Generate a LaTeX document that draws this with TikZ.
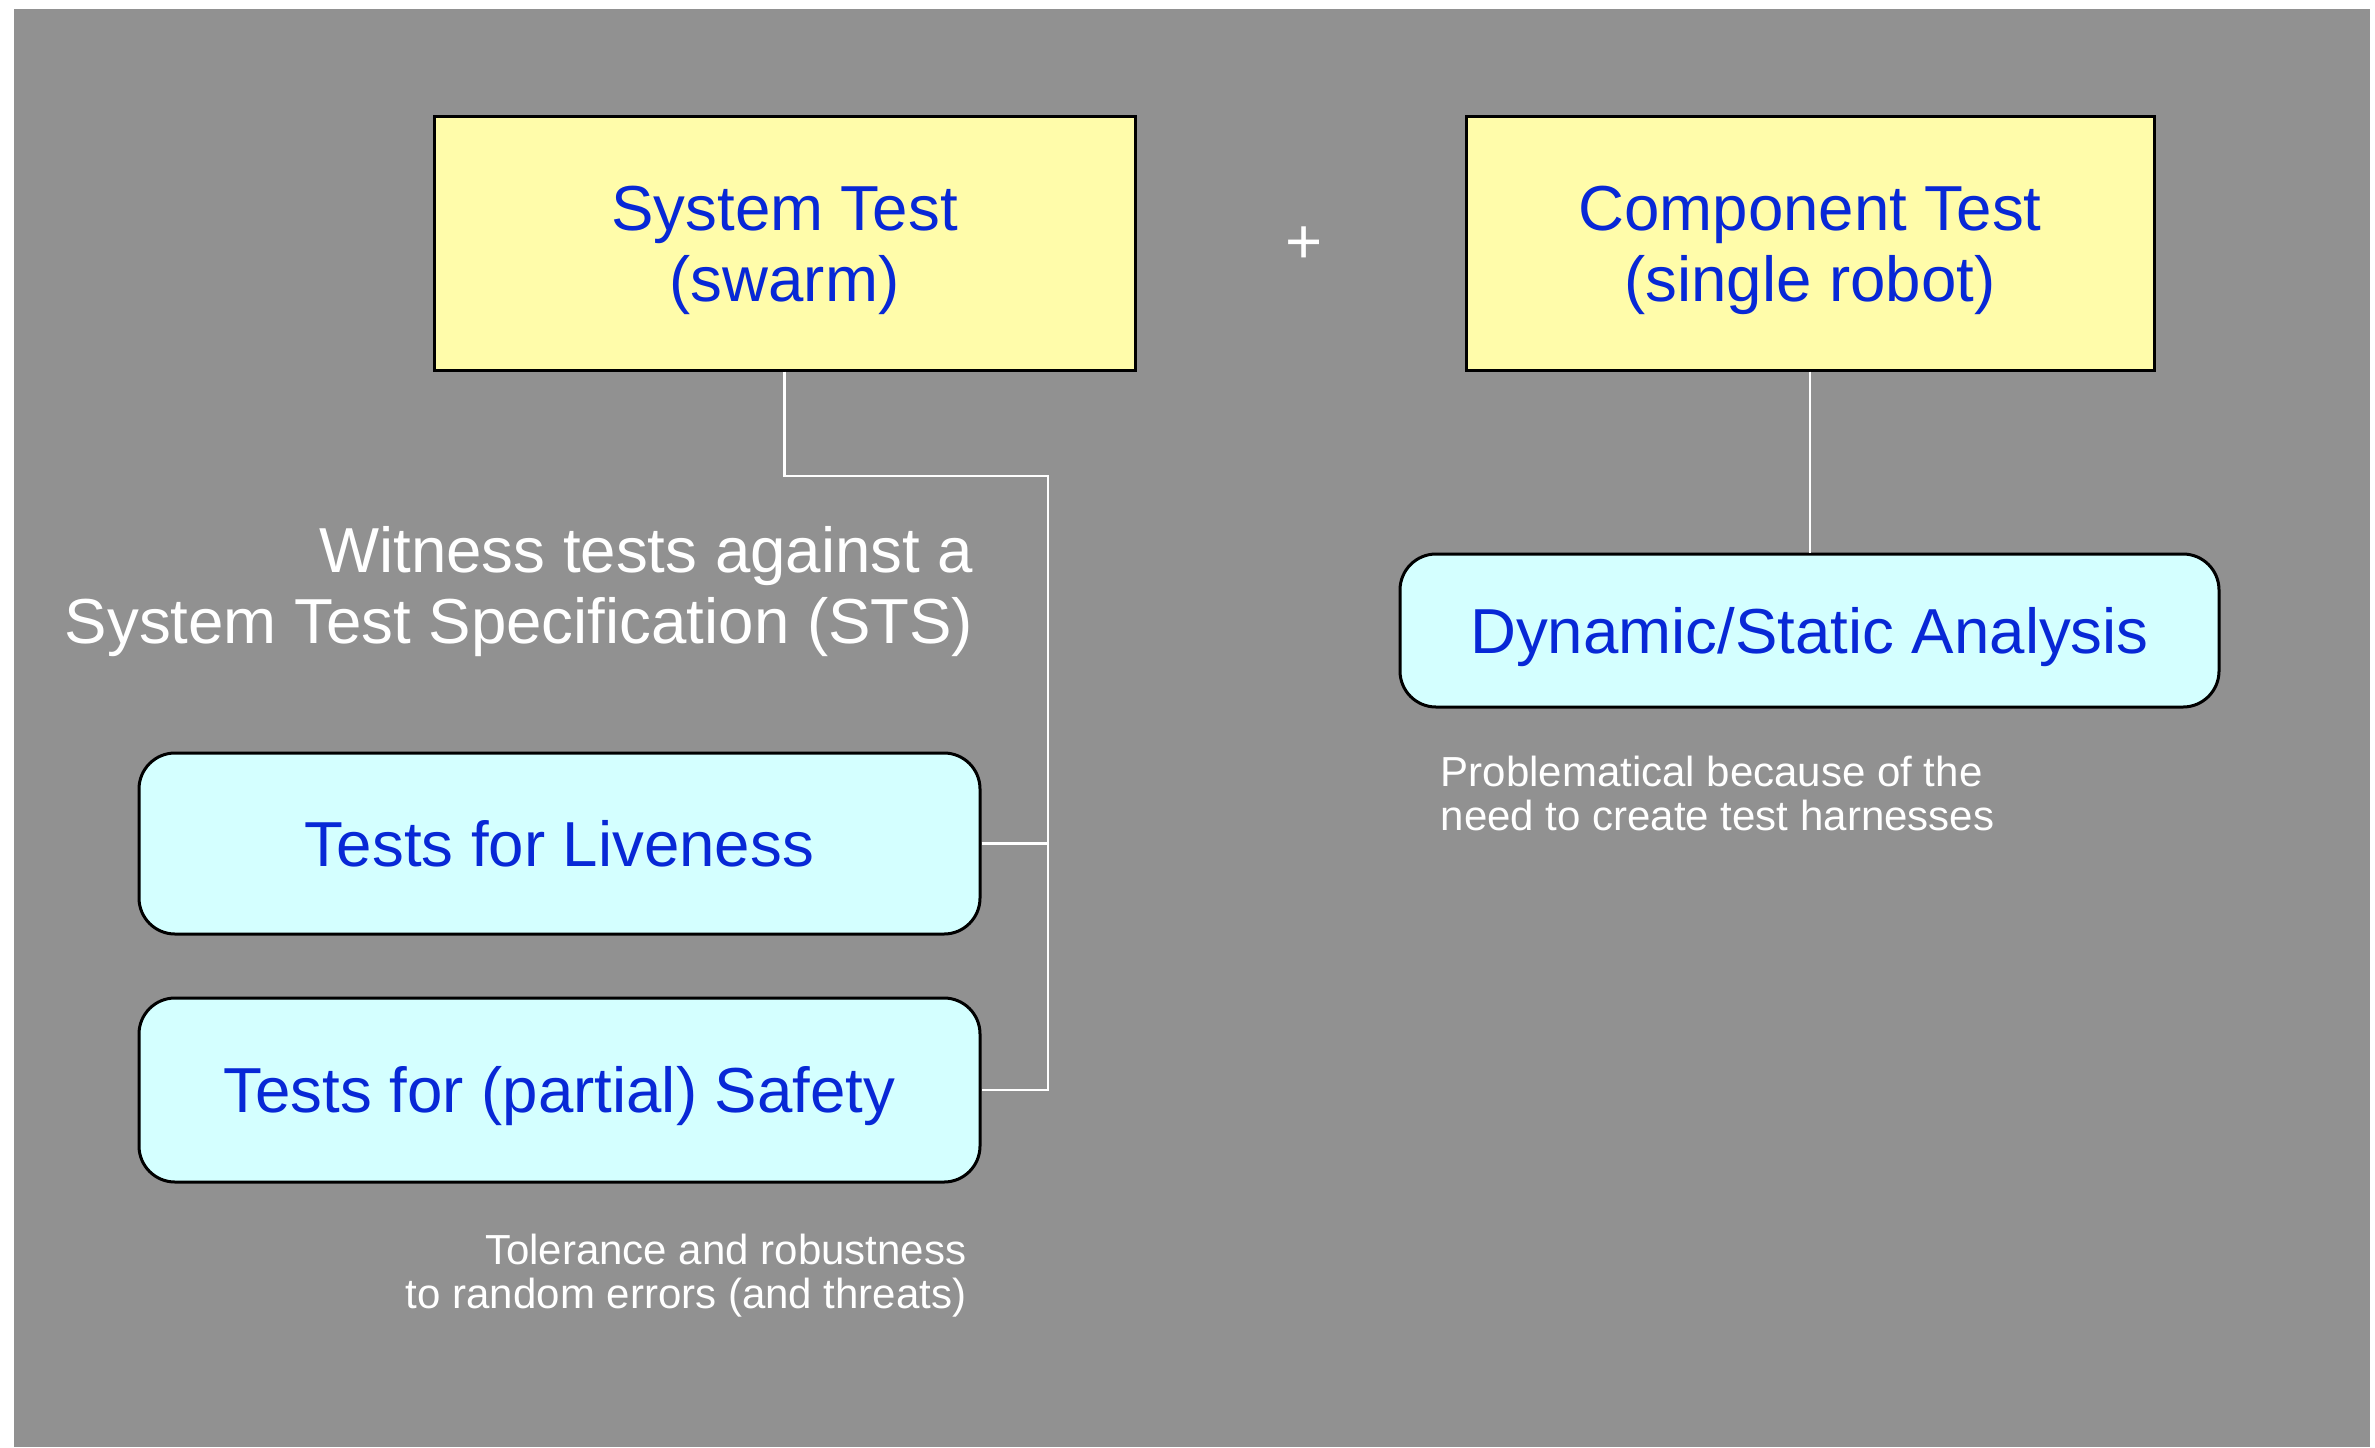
\documentclass[tikz,border=0pt]{standalone}
\usepackage{fontspec}
\setmainfont{Liberation Sans}
\usepackage{tikz}
\usetikzlibrary{calc}

\definecolor{slidegray}{RGB}{145,145,145}
\definecolor{boxyellow}{RGB}{255,252,170}
\definecolor{boxcyan}{RGB}{212,255,255}
\definecolor{textblue}{RGB}{8,40,214}

\tikzset{
  bigtext/.style={font=\fontsize{15.9pt}{17.6pt}\selectfont},
  smalltext/.style={font=\fontsize{10.5pt}{11pt}\selectfont},
  testbox/.style={draw=black, line width=0.75pt, fill=boxyellow, text=textblue,
    bigtext, align=center, inner sep=0pt, minimum height=63.5pt,
    text height=29pt, text depth=0pt},
  taskbox/.style={draw=black, line width=0.75pt, fill=boxcyan, text=textblue,
    bigtext, rounded corners=9pt, inner sep=0pt, text height=11.3pt, text depth=0pt},
  link/.style={draw=white, line width=0.7pt},
  remark/.style={text=white, inner sep=0pt}
}

\begin{document}
\begin{tikzpicture}[x=0.25pt, y=-0.25pt]
                % page and grey slide
                \useasboundingbox (0,0) rectangle (2375,1447);
                \fill[slidegray] (14,9) rectangle (2370,1447);

                % top row: the two kinds of test
                \node[testbox, minimum width=175.25pt] (sys) at (784.5,243) {System Test\\(swarm)};
                \node[testbox, minimum width=172pt] (comp) at (1810,243) {Component Test\\(single robot)};
                \node[remark, bigtext] (plus) at (1304,245) {+};

                % left column: swarm level tests
                \node[remark, bigtext, align=right, anchor=base east] (witness) at (974,643)
                    {Witness tests against a\\System Test Specification (STS)};
                \node[taskbox, minimum width=210.25pt, minimum height=45.25pt] (live) at (559.5,843.5) {Tests for Liveness};
                \node[taskbox, minimum width=210.25pt, minimum height=46pt] (safe) at (559.5,1090) {Tests for (partial) Safety};
                \node[remark, smalltext, align=right, anchor=base east] (tol) at (967,1308)
                    {Tolerance and robustness\\to random errors (and threats)};

                % right column: single robot
                \node[taskbox, minimum width=204.75pt, minimum height=38.25pt] (dyn) at (1809.5,630.5) {Dynamic/Static Analysis};
                \node[remark, smalltext, align=left, anchor=base west] (prob) at (1440,830)
                    {Problematical because of the\\need to create test harnesses};

                % connectors
                \coordinate (bus) at (1048,476);
                \draw[link] (sys.south) |- (bus) -- (bus |- safe.east) -- (safe.east);
                \draw[link] (live.east) -- (live.east -| bus);
                \draw[link] (comp.south) -- (comp.south |- dyn.north);
\end{tikzpicture}
\end{document}
